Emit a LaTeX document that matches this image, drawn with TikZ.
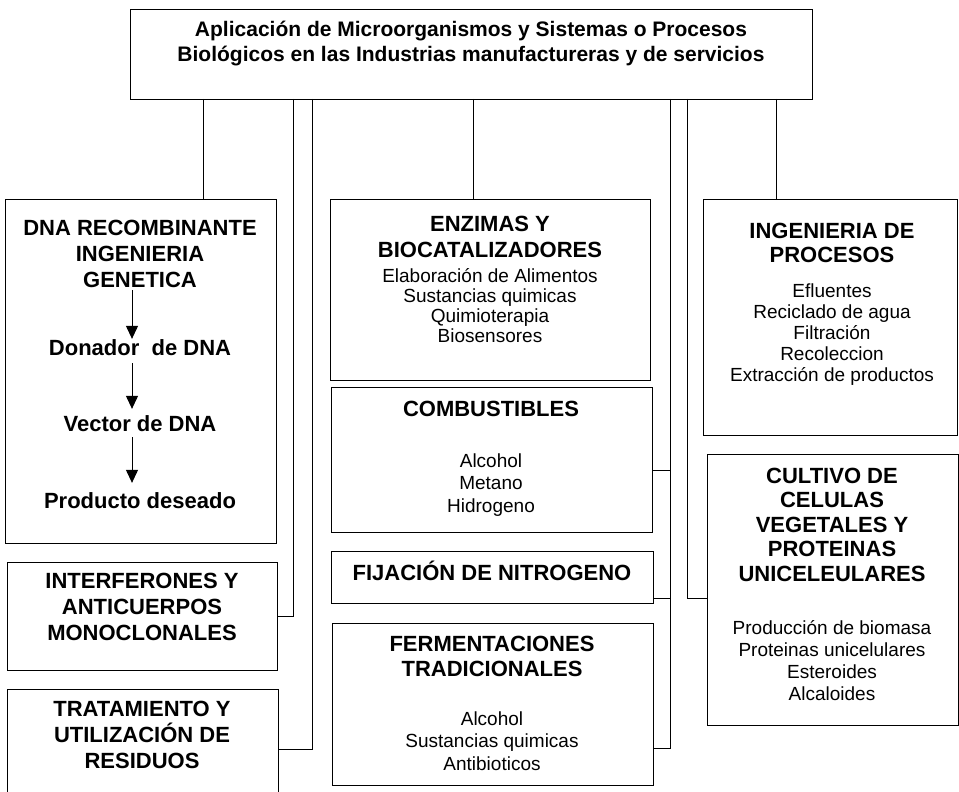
\documentclass[tikz,border=0pt]{standalone}
\usepackage{fontspec}
\setmainfont{Liberation Sans}
\usetikzlibrary{arrows.meta,positioning}

\begin{document}
\begin{tikzpicture}[
    x=1pt, y=-1pt,
    box/.style={
      rectangle,
      draw=black,
      line width=1.2pt,
      inner sep=0pt,
      anchor=north west
    },
    head/.style={
      font=\fontsize{22}{26}\selectfont\bfseries,
      align=center,
      inner sep=0pt,
      anchor=base
    },
    lst/.style={
      font=\fontsize{19}{21.5}\selectfont,
      align=center,
      inner sep=0pt,
      anchor=base
    },
    link/.style={draw=black, line width=1pt},
    arrow/.style={
      -{Triangle[length=13pt, width=12pt]},
      line width=1pt,
      draw=black
    }
  ]
    \useasboundingbox (0,0) rectangle (959,792);

    % boxes
    \node[box, minimum width=682pt, minimum height=90pt] (top) at (130,9) {};
    \node[box, minimum width=271pt, minimum height=344pt] (dna) at (5,199) {};
    \node[box, minimum width=270pt, minimum height=108pt] (inter) at (7,562) {};
    \node[box, minimum width=271pt, minimum height=120pt] (trat) at (7,689) {};
    \node[box, minimum width=320pt, minimum height=181pt] (enz) at (330,199) {};
    \node[box, minimum width=321pt, minimum height=145pt] (comb) at (331,387) {};
    \node[box, minimum width=322pt, minimum height=52pt] (fij) at (331,551) {};
    \node[box, minimum width=321pt, minimum height=162pt] (ferm) at (332,623) {};
    \node[box, minimum width=254pt, minimum height=236pt] (ing) at (703,199) {};
    \node[box, minimum width=251pt, minimum height=271pt] (cult) at (707,454) {};

    % texts (base = baseline of the last line)
    \node[head, font=\fontsize{21}{25}\selectfont\bfseries] (toph) at (471,61.5)
      {Aplicación de Microorganismos y Sistemas o Procesos\\Biológicos en las Industrias manufactureras y de servicios};

    \node[head] (dnah) at (140,287) {DNA RECOMBINANTE\\INGENIERIA\\GENETICA};
    \node[head] (don) at (140,355) {Donador~ de DNA};
    \node[head] (vec) at (140,431) {Vector de DNA};
    \node[head] (prod) at (140,508) {Producto deseado};

    \node[head] (interh) at (142,640) {INTERFERONES Y\\ANTICUERPOS\\MONOCLONALES};
    \node[head] (trath) at (142,768) {TRATAMIENTO Y\\UTILIZACIÓN DE\\RESIDUOS};

    \node[head] (enzh) at (490,257) {ENZIMAS Y\\BIOCATALIZADORES};
    \node[lst, font=\fontsize{19}{20}\selectfont] (enzl) at (490,342)
      {Elaboración de Alimentos\\Sustancias quimicas\\Quimioterapia\\Biosensores};

    \node[head] (combh) at (491,416) {COMBUSTIBLES};
    \node[lst, font=\fontsize{19}{22.5}\selectfont] (combl) at (491,512) {Alcohol\\Metano\\Hidrogeno};

    \node[head] (fijh) at (492,580) {FIJACIÓN DE NITROGENO};

    \node[head, font=\fontsize{22}{25.5}\selectfont\bfseries] (fermh) at (492,676.5) {FERMENTACIONES\\TRADICIONALES};
    \node[lst, font=\fontsize{19}{22.5}\selectfont] (ferml) at (492,770)
      {Alcohol\\Sustancias quimicas\\Antibioticos};

    \node[head, font=\fontsize{22}{24}\selectfont\bfseries] (ingh) at (832,262) {INGENIERIA DE\\PROCESOS};
    \node[lst, font=\fontsize{19}{21}\selectfont] (ingl) at (832,381)
      {Efluentes\\Reciclado de agua\\Filtración\\Recoleccion\\Extracción de productos};

    \node[head, font=\fontsize{22}{24.5}\selectfont\bfseries] (culth) at (832,581)
      {CULTIVO DE\\CELULAS\\VEGETALES Y\\PROTEINAS\\UNICELEULARES};
    \node[lst, font=\fontsize{19}{22}\selectfont] (cultl) at (832,700)
      {Producción de biomasa\\Proteinas unicelulares\\Esteroides\\Alcaloides};

    % arrows inside the DNA box
    \coordinate (a0) at (132,290);
    \draw[arrow] (a0) -- (a0 |- don.north);
    \draw[arrow, shorten <=8pt, shorten >=6pt] ([xshift=-8pt]don.south) -- ([xshift=-8pt]vec.north);
    \draw[arrow, shorten <=6pt, shorten >=9pt] ([xshift=-8pt]vec.south) -- ([xshift=-8pt]prod.north);

    % connectors from the title box
    \coordinate (t1) at (203,99);
    \coordinate (t2) at (293,99);
    \coordinate (t3) at (312,99);
    \coordinate (t4) at (473,99);
    \coordinate (t5) at (670,99);
    \coordinate (t6) at (687,99);
    \coordinate (t7) at (776,99);
    \coordinate (j1) at (670,470);
    \coordinate (j2) at (670,598);
    \coordinate (j3) at (670,748);
    \coordinate (k1) at (687,598);
    \coordinate (k2) at (312,749);

    \draw[link] (t1) -- (t1 |- dna.north);
    \draw[link] (t2) |- (inter.east);
    \draw[link] (t3) -- (k2) -- (k2 -| trat.east);
    \draw[link] (t4) -- (t4 |- enz.north);
    \draw[link] (t5) -- (j3) -- (j3 -| ferm.east);
    \draw[link] (j1) -- (j1 -| comb.east);
    \draw[link] (j2) -- (j2 -| fij.east);
    \draw[link] (t6) -- (k1) -- (k1 -| cult.west);
    \draw[link] (t7) -- (t7 |- ing.north);

  \end{tikzpicture}
\end{document}
